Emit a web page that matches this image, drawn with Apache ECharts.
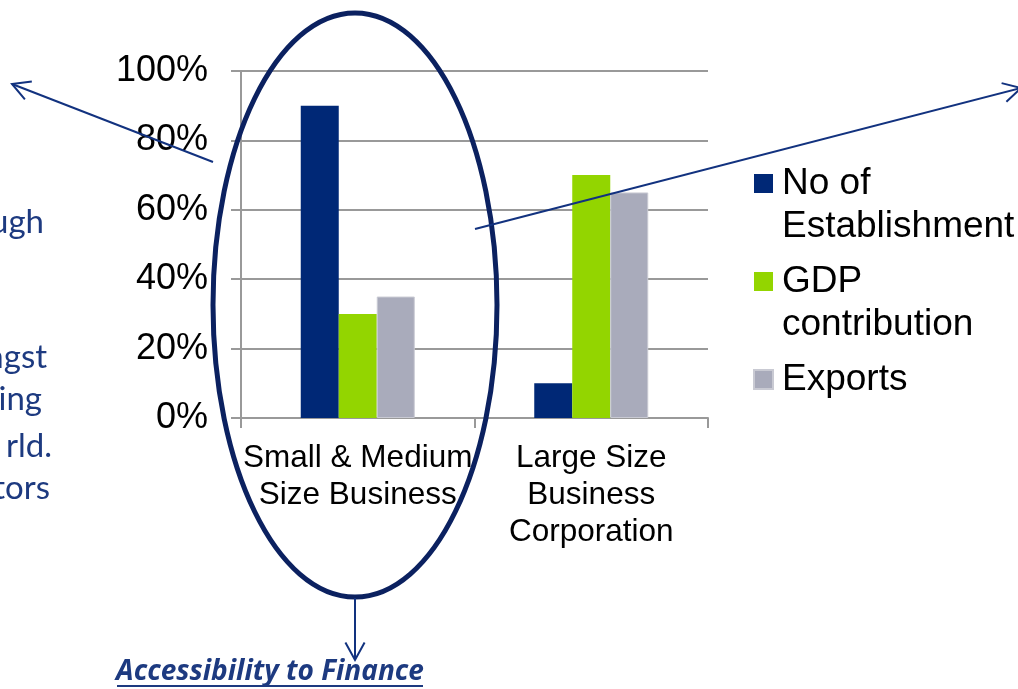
<!DOCTYPE html>
<html>
<head>
<meta charset="utf-8">
<script src="https://cdn.jsdelivr.net/npm/echarts@6/dist/echarts.min.js"></script>
<style>
  html, body { margin: 0; padding: 0; background: #fff; }
  #chart { width: 1018px; height: 689px; }
</style>
</head>
<body>
<div id="chart"></div>
<script>
// Share of establishments, GDP and exports by business size
const categories = ['Small & Medium\nSize Business', 'Large Size\nBusiness\nCorporation'];
const seriesNames = ['No of Establishment', 'GDP contribution', 'Exports'];
const establishments = [0.90, 0.10];
const gdpContribution = [0.30, 0.70];
const exportsShare = [0.35, 0.65];
const yTicks = [0, 0.2, 0.4, 0.6, 0.8, 1.0];

// Legend text broken over lines; blank first line keeps the swatch beside the first line
const legendText = {
  'No of Establishment': '\nNo of\nEstablishment',
  'GDP contribution': '\nGDP\ncontribution',
  'Exports': '\nExports\n'
};

const NAVY = '#0b2160';
const ARROW = '#12327f';
const TEXT_BLUE = '#1d3a80';

// Open arrowhead path for a straight arrow from (x1,y1) to (x2,y2)
function arrow(x1, y1, x2, y2, headLen, headAngle) {
  const a = Math.atan2(y2 - y1, x2 - x1);
  const l = [x2 - headLen * Math.cos(a - headAngle), y2 - headLen * Math.sin(a - headAngle)];
  const r = [x2 - headLen * Math.cos(a + headAngle), y2 - headLen * Math.sin(a + headAngle)];
  return [
    { type: 'line', z: 100, shape: { x1, y1, x2, y2 }, style: { stroke: ARROW, lineWidth: 2 } },
    { type: 'polyline', z: 100, shape: { points: [l, [x2, y2], r] }, style: { stroke: ARROW, lineWidth: 2, fill: null } }
  ];
}

// Side text placed by its baseline
function sideText(text, right, baseline, font) {
  return { type: 'text', z: 100, style: { text, x: right, y: baseline - 10, align: 'right', verticalAlign: 'middle', font, fill: TEXT_BLUE } };
}

const chart = echarts.init(document.getElementById('chart'));

const barBase = { type: 'bar', barWidth: 38, barGap: '0%' };
const sideFont = '33px Lato, sans-serif';

const option = {
  backgroundColor: '#ffffff',
  animation: false,
  grid: { left: 241, right: 310, top: 71, bottom: 271, containLabel: false },
  legend: {
    orient: 'vertical',
    left: 753,
    top: 119,
    padding: 0,
    itemWidth: 19,
    itemHeight: 19,
    itemGap: -31,
    icon: 'rect',
    formatter: name => legendText[name],
    textStyle: {
      fontFamily: 'Liberation Sans, Arial, sans-serif',
      fontSize: 37,
      lineHeight: 43,
      color: '#000',
      padding: [0, 0, 0, 4]
    },
    data: seriesNames
  },
  xAxis: {
    type: 'category',
    data: categories,
    axisLine: { show: true, lineStyle: { color: '#999', width: 2 } },
    axisTick: { show: true, length: 10, lineStyle: { color: '#999', width: 2 } },
    axisLabel: {
      interval: 0,
      margin: 22,
      fontFamily: 'Liberation Sans, Arial, sans-serif',
      fontSize: 31.5,
      lineHeight: 37,
      color: '#000'
    }
  },
  yAxis: {
    type: 'value',
    min: 0,
    max: 1,
    interval: 0.2,
    axisLine: { show: true, lineStyle: { color: '#999', width: 2 } },
    axisTick: { show: true, length: 10, lineStyle: { color: '#999', width: 2 } },
    splitLine: { show: true, lineStyle: { color: '#999', width: 2 } },
    axisLabel: {
      margin: 33,
      fontFamily: 'Liberation Sans, Arial, sans-serif',
      fontSize: 36,
      color: '#000',
      customValues: yTicks,
      formatter: v => Math.round(v * 100) + '%'
    }
  },
  series: [
    Object.assign({}, barBase, { name: seriesNames[0], data: establishments, itemStyle: { color: '#002876' } }),
    Object.assign({}, barBase, { name: seriesNames[1], data: gdpContribution, itemStyle: { color: '#93d500' } }),
    Object.assign({}, barBase, { name: seriesNames[2], data: exportsShare, itemStyle: { color: '#a9abbb', borderColor: '#c9cad3', borderWidth: 1 } })
  ],
  graphic: [
    // highlight ring around the small & medium group
    { type: 'ellipse', z: 100, shape: { cx: 355, cy: 305, rx: 142, ry: 292 }, style: { stroke: NAVY, lineWidth: 5, fill: null } },
    ...arrow(213, 162, 12, 84, 20, 0.5),
    ...arrow(475, 229, 1021, 88, 20, 0.5),
    ...arrow(355, 598, 355, 660, 20, 0.5),
    // side text running in from the left
    sideText('ugh', 44, 232, sideFont),
    sideText('ngst', 47, 367, sideFont),
    sideText('ing', 42, 409, sideFont),
    sideText('rld.', 52, 456, sideFont),
    sideText('tors', 50, 498, sideFont),
    // caption under the ring
    { type: 'text', z: 100, style: { text: 'Accessibility to Finance', x: 270, y: 672, align: 'center', verticalAlign: 'middle', font: 'italic bold 28px "Open Sans", sans-serif', fill: TEXT_BLUE } },
    { type: 'line', z: 100, shape: { x1: 117, y1: 686, x2: 423, y2: 686 }, style: { stroke: TEXT_BLUE, lineWidth: 2 } }
  ]
};

chart.setOption(option);
</script>
</body>
</html>
